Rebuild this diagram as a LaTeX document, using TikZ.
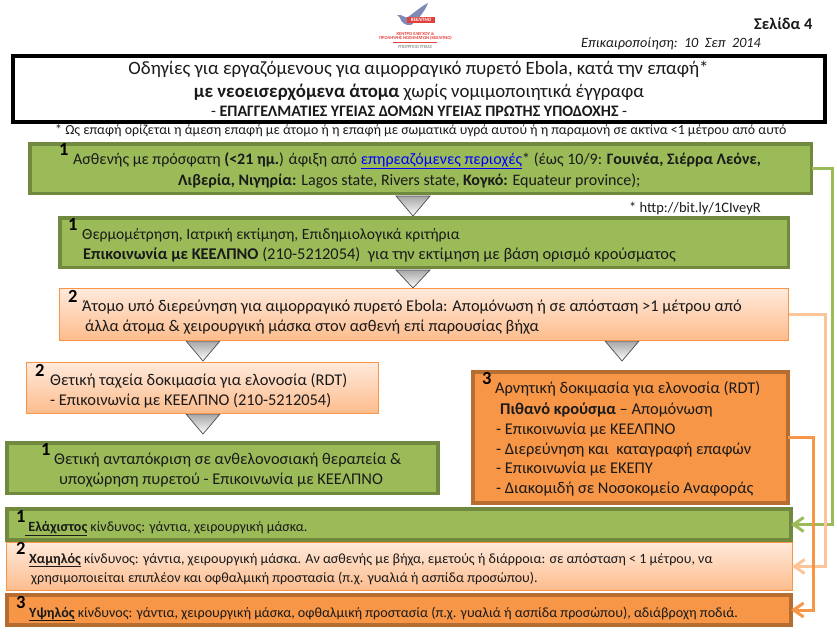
\documentclass[tikz,border=0pt]{standalone}
\usepackage{fontspec}
\setmainfont{Carlito}
\usetikzlibrary{arrows.meta,calc}
\definecolor{gfill}{HTML}{9BBB59}
\definecolor{gedge}{HTML}{71893F}
\definecolor{ofill}{HTML}{F79646}
\definecolor{oedge}{HTML}{B66D31}
\definecolor{ledge}{HTML}{F79646}
\definecolor{ltop}{HTML}{FFE9DB}
\definecolor{lbot}{HTML}{FDBC8C}
\definecolor{lline}{HTML}{FBC499}
\definecolor{ink}{HTML}{1A1A1A}
\definecolor{logored}{HTML}{E2403A}
\definecolor{logoblue}{HTML}{7F89B5}
\tikzset{
 x=1pt,y=-1pt,
 boxbase/.style={anchor=north west,inner sep=0pt,outer sep=0pt},
 greenbox/.style={boxbase,fill=gfill,draw=gedge,line width=3.6pt},
 orangebox/.style={boxbase,fill=ofill,draw=oedge,line width=3.6pt},
 lightbox/.style={boxbase,draw=ledge,line width=1pt,top color=ltop,bottom color=lbot},
 titlebox/.style={boxbase,draw=black,line width=4pt,fill=white},
 txt/.style={anchor=base west,inner sep=0pt,font=\fontsize{16.4}{18}\selectfont,text=ink},
 smalltxt/.style={txt,font=\fontsize{14.1}{16}\selectfont},
 mid/.style={anchor=base,inner sep=0pt,text=ink},
 num/.style={anchor=base west,inner sep=0pt,font=\fontsize{18.5}{20}\selectfont\bfseries,text=black},
 tri/.style={draw=black!70,line width=.7pt,top color=black!35,bottom color=white},
 link/.style={line width=3pt,-{Straight Barb[length=10pt,width=14pt]}},
}
\newcommand{\trig}[3]{\draw[tri] (#1-17,#2) -- (#1+17,#2) -- (#1,#3) -- cycle;}
\begin{document}
\begin{tikzpicture}
\useasboundingbox (0,0) rectangle (837,632);
% logo
\fill[logoblue] (397,15) .. controls (403,14) and (405,19) .. (408,17) .. controls (414,13) and (420,7) .. (428,3) .. controls (425,11) and (418,20) .. (411,25) .. controls (405,26) and (401,22) .. (400,18) -- cycle;
\node[boxbase,fill=logored,minimum width=28pt,minimum height=6.5pt,text=white,font=\fontsize{5}{5}\selectfont\bfseries,anchor=center,align=center] (logobadge) at (421,20) {ΚΕΕΛΠΝΟ};
\node[mid,text=logored,font=\fontsize{4.6}{5}\selectfont\bfseries] (logoa) at (415.5,35) {ΚΕΝΤΡΟ ΕΛΕΓΧΟΥ \&};
\node[mid,text=logored,font=\fontsize{4.6}{5}\selectfont\bfseries] (logob) at (415.5,39.5) {ΠΡΟΛΗΨΗΣ ΝΟΣΗΜΑΤΩΝ (ΚΕΕΛΠΝΟ)};
\draw[logored,line width=.4pt] (393,42) -- (437,42);
\node[mid,text=black!60,font=\fontsize{4.6}{5}\selectfont] (logoc) at (415,48) {ΥΠΟΥΡΓΕΙΟ ΥΓΕΙΑΣ};
% header
\node[txt,font=\fontsize{16.4}{18}\selectfont\bfseries] (page) at (754,29) {Σελίδα 4};
\node[txt,font=\fontsize{14.2}{16}\selectfont\itshape] (upd) at (581,47) {Επικαιροποίηση:\ \ 10\ \ Σεπ\ \ 2014};
% title
\node[titlebox,minimum width=812pt,minimum height=66pt] (title) at (13,56) {};
\node[mid,font=\fontsize{18.8}{20}\selectfont] (t1) at (418.5,74) {Οδηγίες για εργαζόμενους για αιμορραγικό πυρετό Ebola, κατά την επαφή*};
\node[mid,font=\fontsize{18.8}{20}\selectfont] (t2) at (419,97) {\textbf{με νεοεισερχόμενα άτομα} χωρίς νομιμοποιητικά έγγραφα};
\node[mid,font=\fontsize{16}{18}\selectfont] (t3) at (419,116) {- \textbf{ΕΠΑΓΓΕΛΜΑΤΙΕΣ ΥΓΕΙΑΣ ΔΟΜΩΝ ΥΓΕΙΑΣ ΠΡΩΤΗΣ ΥΠΟΔΟΧΗΣ} -};
\node[txt,font=\fontsize{13.9}{16}\selectfont] (foot) at (55,134.5) {* Ως επαφή ορίζεται η άμεση επαφή με άτομο ή η επαφή με σωματικά υγρά αυτού ή η παραμονή σε ακτίνα <1 μέτρου από αυτό};
% triangles
\trig{413}{196}{216}
\trig{413}{270}{288}
\trig{203}{341}{361}
\trig{622}{341}{361}
\trig{203}{414}{434}
% box 1
\node[greenbox,minimum width=781.5pt,minimum height=49.5pt] (b1) at (30,144) {};
\node[num] (n1) at (59,155) {1};
\node[txt,font=\fontsize{16}{18}\selectfont] (b1a) at (73,164) {Ασθενής με πρόσφατη \textbf{(<21 ημ.}) άφιξη από \textcolor{blue}{\underline{επηρεαζόμενες περιοχές}}* (έως 10/9: \textbf{Γουινέα, Σιέρρα Λεόνε,}};
\node[txt,font=\fontsize{16}{18}\selectfont] (b1b) at (178,185) {\textbf{Λιβερία, Νιγηρία:} Lagos state, Rivers state, \textbf{Κογκό:} Equateur province);};
\node[txt,font=\fontsize{14.5}{16}\selectfont] (url) at (629,212) {* http://bit.ly/1CIveyR};
% box 2
\node[greenbox,minimum width=728.5pt,minimum height=49.5pt] (b2) at (60,218) {};
\node[num] (n2) at (68,230) {1};
\node[txt,font=\fontsize{15.6}{18}\selectfont] (b2a) at (82,239) {Θερμομέτρηση, Ιατρική εκτίμηση, Επιδημιολογικά κριτήρια};
\node[txt] (b2b) at (83,259) {\textbf{Επικοινωνία με ΚΕΕΛΠΝΟ} (210-5212054)\ \ για την εκτίμηση με βάση ορισμό κρούσματος};
% box 3
\node[lightbox,minimum width=729pt,minimum height=52pt] (b3) at (59.5,288.5) {};
\node[num] (n3) at (68,302) {2};
\node[txt] (b3a) at (82,311) {Άτομο υπό διερεύνηση για αιμορραγικό πυρετό Ebola: Απομόνωση ή σε απόσταση >1 μέτρου από};
\node[txt] (b3b) at (85,331) {άλλα άτομα \& χειρουργική μάσκα στον ασθενή επί παρουσίας βήχα};
% box 4
\node[lightbox,minimum width=352pt,minimum height=51pt] (b4) at (26.5,362.5) {};
\node[num] (n4) at (35,376) {2};
\node[txt] (b4a) at (50,385) {Θετική ταχεία δοκιμασία για ελονοσία (RDT)};
\node[txt] (b4b) at (50,405) {- Επικοινωνία με ΚΕΕΛΠΝΟ (210-5212054)};
% box 5
\node[greenbox,minimum width=431pt,minimum height=50.5pt] (b5) at (7,443) {};
\node[num] (n5) at (41,455) {1};
\node[txt] (b5a) at (54,464) {Θετική ανταπόκριση σε ανθελονοσιακή θεραπεία \&};
\node[txt] (b5b) at (59,484) {υποχώρηση πυρετού - Επικοινωνία με ΚΕΕΛΠΝΟ};
% box 6
\node[orangebox,minimum width=315pt,minimum height=131pt] (b6) at (473,372) {};
\node[num] (n6) at (482,384) {3};
\node[txt] (b6a) at (495,393) {Αρνητική δοκιμασία για ελονοσία (RDT)};
\node[txt] (b6b) at (500,414) {\textbf{Πιθανό κρούσμα} -- Απομόνωση};
\node[txt] (b6c) at (496,434) {- Επικοινωνία με ΚΕΕΛΠΝΟ};
\node[txt] (b6d) at (496,454) {- Διερεύνηση και\ \ καταγραφή επαφών};
\node[txt] (b6e) at (496,473) {- Επικοινωνία με ΕΚΕΠΥ};
\node[txt] (b6f) at (496,493) {- Διακομιδή σε Νοσοκομείο Αναφοράς};
% risk boxes
\node[greenbox,minimum width=784pt,minimum height=31pt] (r1) at (7,509) {};
\node[num] (rn1) at (16,522) {1};
\node[smalltxt] (r1a) at (25,531) {\underline{\ \textbf{Ελάχιστος}} κίνδυνος: γάντια, χειρουργική μάσκα.};
\node[lightbox,minimum width=786pt,minimum height=48pt] (r2) at (6,542.5) {};
\node[num] (rn2) at (16,554) {2};
\node[smalltxt] (r2a) at (29,563) {\underline{\textbf{Χαμηλός}} κίνδυνος: γάντια, χειρουργική μάσκα. Αν ασθενής με βήχα, εμετούς ή διάρροια: σε απόσταση < 1 μέτρου, να};
\node[smalltxt] (r2b) at (31,582) {χρησιμοποιείται επιπλέον και οφθαλμική προστασία (π.χ. γυαλιά ή ασπίδα προσώπου).};
\node[orangebox,minimum width=784pt,minimum height=30pt] (r3) at (7,595) {};
\node[num] (rn3) at (16,608) {3};
\node[smalltxt] (r3a) at (29,617) {\underline{\textbf{Υψηλός}} κίνδυνος: γάντια, χειρουργική μάσκα, οφθαλμική προστασία (π.χ. γυαλιά ή ασπίδα προσώπου), αδιάβροχη ποδιά.};
% connectors
\coordinate (gx) at (832,0);
\coordinate (lx) at (825.5,0);
\coordinate (ox) at (813,0);
\draw[link,gfill] (b1.east) -- (b1.east -| gx) -- (r1.east -| gx) -- (r1.east);
\draw[link,lline] (b3.east) -- (b3.east -| lx) -- (r2.east -| lx) -- (r2.east);
\draw[link,ofill] (b6.east) -- (b6.east -| ox) -- (r3.east -| ox) -- (r3.east);
\end{tikzpicture}
\end{document}
